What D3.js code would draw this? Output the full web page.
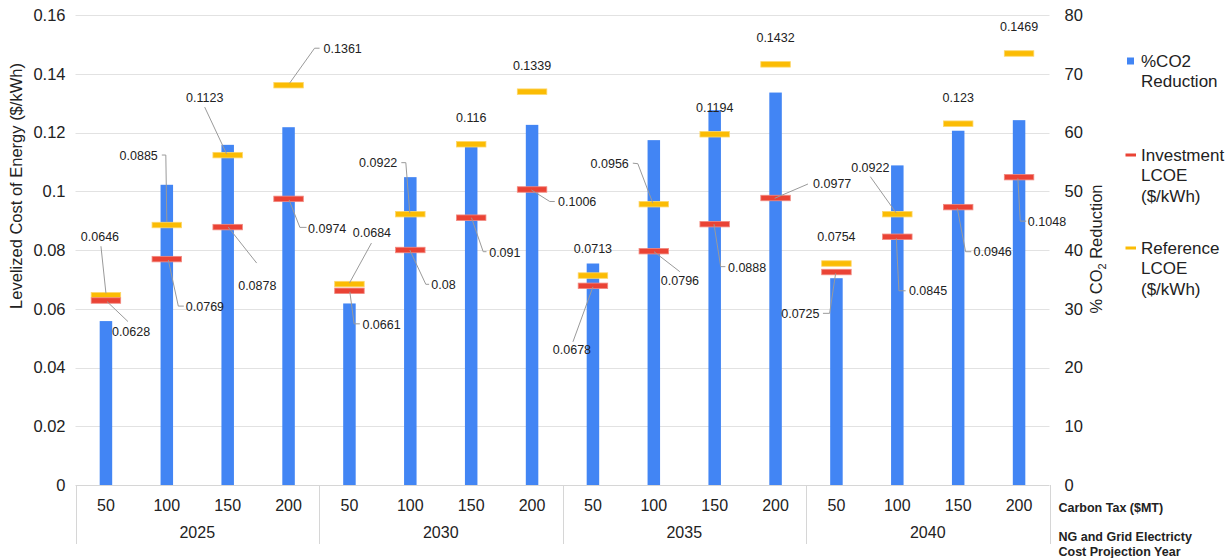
<!DOCTYPE html>
<html>
<head>
<meta charset="utf-8">
<script src="https://cdn.jsdelivr.net/npm/d3@7/dist/d3.min.js"></script>
<style>
  html, body { margin: 0; padding: 0; background: #ffffff; }
  svg { display: block; font-family: "Liberation Sans", Arial, sans-serif; }
</style>
</head>
<body>
<svg id="chart" width="1226" height="558"></svg>
<script>
// ---- data ----
const years = ["2025", "2030", "2035", "2040"];
const carbonTax = ["50", "100", "150", "200"];
const co2Reduction = [27.9, 51.1, 57.9, 60.9, 30.9, 52.4, 57.8, 61.3, 37.7, 58.7, 63.8, 66.8, 35.2, 54.4, 60.3, 62.1];
const investmentLCOE = [0.0628, 0.0769, 0.0878, 0.0974, 0.0661, 0.08, 0.091, 0.1006, 0.0678, 0.0796, 0.0888, 0.0977, 0.0725, 0.0845, 0.0946, 0.1048];
const referenceLCOE = [0.0646, 0.0885, 0.1123, 0.1361, 0.0684, 0.0922, 0.116, 0.1339, 0.0713, 0.0956, 0.1194, 0.1432, 0.0754, 0.0922, 0.123, 0.1469];
const leftTicks = [0, 0.02, 0.04, 0.06, 0.08, 0.1, 0.12, 0.14, 0.16];
const rightTicks = [0, 10, 20, 30, 40, 50, 60, 70, 80];

// ---- label layout: text offset from marker, anchor, leader polyline (relative to marker) ----
const refLabelLayout = [
  { dx: -6, dy: -58.5, a: "middle", path: [[-5, -49], [0, -2]] },
  { dx: -9, dy: -69, a: "end", path: [[-5, -70], [-1, -70], [0, -3]] },
  { dx: -23, dy: -57, a: "middle", path: [[-23, -48], [-1, -1]] },
  { dx: 35, dy: -37, a: "start", path: [[1, -2], [26, -37], [31, -37]] },
  { dx: 22.5, dy: -51, a: "middle", path: [[22, -41], [0, -1]] },
  { dx: -13, dy: -51.5, a: "end", path: [[-9, -51.5], [-4.5, -51.5], [-0.5, -1]] },
  { dx: 0, dy: -26.5, a: "middle", path: null },
  { dx: 0, dy: -26.5, a: "middle", path: null },
  { dx: 0, dy: -26.5, a: "middle", path: null },
  { dx: -25, dy: -41, a: "end", path: [[-21, -41], [-16, -40.5], [-1, -1]] },
  { dx: 0, dy: -26.5, a: "middle", path: null },
  { dx: 0, dy: -26.5, a: "middle", path: null },
  { dx: 0, dy: -26.5, a: "middle", path: null },
  { dx: -27, dy: -46.5, a: "middle", path: [[-27, -37.5], [-1, -1]] },
  { dx: 0, dy: -26.5, a: "middle", path: null },
  { dx: 0, dy: -26.5, a: "middle", path: null }
];
const invLabelLayout = [
  { dx: 6, dy: 31.5, a: "start", path: [[1, 1], [22, 21]] },
  { dx: 19, dy: 47.5, a: "start", path: [[1.5, 1], [11.5, 47], [17, 47]] },
  { dx: 10.5, dy: 58.5, a: "start", path: [[0.5, 0], [29, 36]] },
  { dx: 19.5, dy: 29.5, a: "start", path: [[0.5, 1], [11.3, 28.5], [18, 28.5]] },
  { dx: 13, dy: 34, a: "start", path: [[0.4, 1], [4.7, 33], [10.4, 33]] },
  { dx: 21, dy: 35, a: "start", path: [[-0.5, 0], [15.5, 34.3], [18.8, 34.3]] },
  { dx: 18, dy: 34.5, a: "start", path: [[0.3, 0], [12, 34], [15.3, 34]] },
  { dx: 26, dy: 12, a: "start", path: [[-0.6, 0.5], [17.7, 12], [22.7, 12]] },
  { dx: -21, dy: 63.5, a: "middle", path: [[0, 1], [-20, 56]] },
  { dx: 7, dy: 29, a: "start", path: [[0.2, 0.5], [26, 20.5]] },
  { dx: 13.3, dy: 43, a: "start", path: [[-0.7, 0], [6, 42.5], [10.7, 42.5]] },
  { dx: 37.5, dy: -14, a: "start", path: [[-0.9, 0.3], [32.4, -14]] },
  { dx: -17, dy: 41.3, a: "end", path: [[-0.8, 1.3], [-6.8, 41.3], [-13.5, 41.3]] },
  { dx: 11.6, dy: 54, a: "start", path: [[-1, 1.5], [1.6, 54], [8.3, 54]] },
  { dx: 15.4, dy: 45, a: "start", path: [[-0.9, 1.2], [7.4, 44.6], [13.1, 44.6]] },
  { dx: 8.8, dy: 44, a: "start", path: [[-1.2, 1.2], [1.2, 44], [7.2, 44]] }
];

// ---- geometry ----
const plot = { left: 75.5, right: 1049.5, top: 15, bottom: 485 };
const colors = { bar: "#4285F4", inv: "#EA4335", ref: "#FBBC04", grid: "#e2e2e2", frame: "#d6d6d6", text: "#222222", leader: "#9a9a9a" };

const svg = d3.select("#chart");

const points = [];
years.forEach((yr, gi) => carbonTax.forEach((t, ti) => points.push({ key: yr + "-" + t, year: yr, tax: t, i: gi * carbonTax.length + ti })));

const x = d3.scaleBand().domain(points.map(p => p.key)).range([plot.left, plot.right]).paddingInner(0).paddingOuter(0);
const yL = d3.scaleLinear().domain([0, 0.16]).range([plot.bottom, plot.top]);
const yR = d3.scaleLinear().domain([0, 80]).range([plot.bottom, plot.top]);
const groupX = d3.scaleBand().domain(years).range([plot.left, plot.right]);

// gridlines
svg.append("g")
  .selectAll("line")
  .data(leftTicks.filter(d => d > 0))
  .join("line")
  .attr("x1", plot.left).attr("x2", plot.right)
  .attr("y1", d => Math.round(yL(d)) + 0.5).attr("y2", d => Math.round(yL(d)) + 0.5)
  .attr("stroke", colors.grid).attr("stroke-width", 1);

// left axis
const leftAxis = svg.append("g")
  .attr("transform", `translate(${plot.left - 10},0)`)
  .call(d3.axisLeft(yL).tickValues(leftTicks).tickFormat(d => d3.format("")(+d.toFixed(2))).tickSize(0).tickPadding(0));
leftAxis.select(".domain").remove();
leftAxis.selectAll("text").attr("font-size", 16.5).attr("fill", colors.text).attr("font-family", "Liberation Sans, Arial, sans-serif");

// right axis
const rightAxis = svg.append("g")
  .attr("transform", `translate(${plot.right + 15},0)`)
  .call(d3.axisRight(yR).tickValues(rightTicks).tickSize(0).tickPadding(0));
rightAxis.select(".domain").remove();
rightAxis.selectAll("text").attr("font-size", 16.5).attr("fill", colors.text).attr("font-family", "Liberation Sans, Arial, sans-serif");

// bars
const barW = 12.5;
svg.append("g")
  .selectAll("rect")
  .data(points)
  .join("rect")
  .attr("x", d => x(d.key) + x.bandwidth() / 2 - barW / 2)
  .attr("y", d => yR(co2Reduction[d.i]))
  .attr("width", barW)
  .attr("height", d => plot.bottom - yR(co2Reduction[d.i]))
  .attr("fill", colors.bar);

// category frame below the axis
const frame = svg.append("g");
frame.append("line")
  .attr("x1", plot.left).attr("x2", plot.right)
  .attr("y1", plot.bottom + 0.5).attr("y2", plot.bottom + 0.5)
  .attr("stroke", colors.frame);
const seps = years.map(y => groupX(y)).concat([plot.right]);
frame.selectAll("line.sep")
  .data(seps)
  .join("line")
  .attr("class", "sep")
  .attr("x1", d => Math.round(d) + 0.5).attr("x2", d => Math.round(d) + 0.5)
  .attr("y1", plot.bottom).attr("y2", plot.bottom + 59)
  .attr("stroke", colors.frame);

// carbon tax labels
const xAxis = svg.append("g")
  .attr("transform", `translate(0,${plot.bottom + 21})`)
  .call(d3.axisBottom(x).tickFormat(k => k.split("-")[1]).tickSize(0).tickPadding(0));
xAxis.select(".domain").remove();
xAxis.selectAll("text").attr("font-size", 16).attr("fill", colors.text).attr("dy", "0.32em").attr("font-family", "Liberation Sans, Arial, sans-serif");

// year labels
svg.append("g")
  .selectAll("text")
  .data(years)
  .join("text")
  .attr("x", d => groupX(d) + groupX.bandwidth() / 2)
  .attr("y", plot.bottom + 53)
  .attr("text-anchor", "middle")
  .attr("font-size", 16)
  .attr("fill", colors.text)
  .text(d => d);

// axis captions on the right of the category axis
const capX = plot.right + 9;
svg.append("text").attr("x", capX).attr("y", 512).attr("font-size", 12.5).attr("font-weight", "bold").attr("fill", colors.text).text("Carbon Tax ($MT)");
svg.append("text").attr("x", capX).attr("y", 541).attr("font-size", 12.5).attr("font-weight", "bold").attr("fill", colors.text).text("NG and Grid Electricty");
svg.append("text").attr("x", capX).attr("y", 555.5).attr("font-size", 12.5).attr("font-weight", "bold").attr("fill", colors.text).text("Cost Projection Year");

// LCOE markers
const mW = 29.5, mH = 5.5;
function markers(values, color, lighter) {
  svg.append("g")
    .selectAll("rect")
    .data(points)
    .join("rect")
    .attr("x", d => x(d.key) + x.bandwidth() / 2 - mW / 2)
    .attr("y", d => yL(values[d.i]) - mH / 2)
    .attr("width", mW)
    .attr("height", mH)
    .attr("fill", color)
    .attr("stroke", lighter)
    .attr("stroke-width", 0.8);
}
markers(referenceLCOE, colors.ref, "#fdd76a");
markers(investmentLCOE, colors.inv, "#f28b82");

// value labels with leader lines
function valueLabels(values, layout) {
  const g = svg.append("g");
  points.forEach(d => {
    const cx = x(d.key) + x.bandwidth() / 2;
    const cy = yL(values[d.i]);
    const L = layout[d.i];
    if (L.path) {
      g.append("polyline")
        .attr("points", L.path.map(p => [cx + p[0], cy + p[1]].join(",")).join(" "))
        .attr("fill", "none")
        .attr("stroke", colors.leader)
        .attr("stroke-width", 1);
    }
    g.append("text")
      .attr("x", cx + L.dx)
      .attr("y", cy + L.dy)
      .attr("dy", "0.35em")
      .attr("text-anchor", L.a)
      .attr("font-size", 12.5)
      .attr("fill", colors.text)
      .text(String(values[d.i]));
  });
}
valueLabels(referenceLCOE, refLabelLayout);
valueLabels(investmentLCOE, invLabelLayout);

// axis titles
svg.append("text")
  .attr("transform", `translate(22,186) rotate(-90)`)
  .attr("text-anchor", "middle")
  .attr("font-size", 16.5)
  .attr("fill", colors.text)
  .text("Levelized Cost of Energy ($/kWh)");

const rt = svg.append("text")
  .attr("transform", `translate(1102,249) rotate(-90)`)
  .attr("text-anchor", "middle")
  .attr("font-size", 16.5)
  .attr("fill", colors.text);
rt.append("tspan").text("% CO");
rt.append("tspan").attr("font-size", 11).attr("dy", 4).text("2");
rt.append("tspan").attr("dy", -4).text(" Reduction");

// legend
const legend = svg.append("g").attr("font-size", 17).attr("fill", colors.text);
legend.append("rect").attr("x", 1127).attr("y", 57.5).attr("width", 7).attr("height", 7).attr("fill", colors.bar);
legend.append("text").attr("x", 1141).attr("y", 61).attr("dy", "0.35em").text("%CO2");
legend.append("text").attr("x", 1141).attr("y", 81.5).attr("dy", "0.35em").text("Reduction");

legend.append("rect").attr("x", 1125.5).attr("y", 153.5).attr("width", 10.5).attr("height", 3).attr("fill", colors.inv);
legend.append("text").attr("x", 1141).attr("y", 155).attr("dy", "0.35em").text("Investment");
legend.append("text").attr("x", 1141).attr("y", 175.5).attr("dy", "0.35em").text("LCOE");
legend.append("text").attr("x", 1141).attr("y", 196).attr("dy", "0.35em").text("($/kWh)");

legend.append("rect").attr("x", 1125.5).attr("y", 246.5).attr("width", 10.5).attr("height", 3).attr("fill", colors.ref);
legend.append("text").attr("x", 1141).attr("y", 248).attr("dy", "0.35em").text("Reference");
legend.append("text").attr("x", 1141).attr("y", 268.5).attr("dy", "0.35em").text("LCOE");
legend.append("text").attr("x", 1141).attr("y", 289).attr("dy", "0.35em").text("($/kWh)");
</script>
</body>
</html>
